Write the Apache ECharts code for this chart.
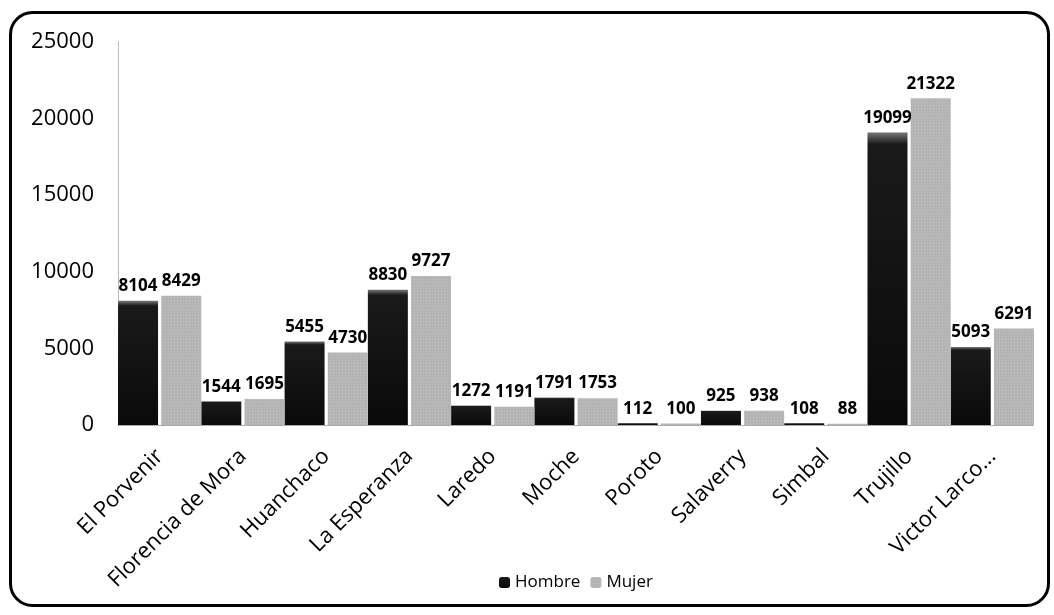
<!DOCTYPE html>
<html>
<head>
<meta charset="utf-8">
<script src="https://cdn.jsdelivr.net/npm/echarts@6/dist/echarts.min.js"></script>
<style>
html,body{margin:0;padding:0;background:#fff;}
#chart{width:1054px;height:615px;}
</style>
</head>
<body>
<div id="chart"></div>
<script>
// datos por distrito
var categories = ['El Porvenir','Florencia de Mora','Huanchaco','La Esperanza','Laredo','Moche','Poroto','Salaverry','Simbal','Trujillo','Victor Larco...'];
var hombre = [8104,1544,5455,8830,1272,1791,112,925,108,19099,5093];
var mujer = [8429,1695,4730,9727,1191,1753,100,938,88,21322,6291];
var yTicks = [0,5000,10000,15000,20000,25000];

var chart = echarts.init(document.getElementById('chart'));

var labelStyle = {
    show:true,
    position:'top',
    distance:6,
    color:'#000',
    fontWeight:'bold',
    fontSize:17,
    fontFamily:'Open Sans'
};

var option = {
    animation:false,
    backgroundColor:'#fff',
    textStyle:{fontFamily:'Open Sans'},
    graphic:[{
        type:'rect',
        left:8, top:10,
        shape:{width:1038, height:593, r:22},
        style:{fill:'none', stroke:'#000', lineWidth:3},
        z:-1
    }],
    grid:{left:118, right:20, top:42, bottom:190},
    legend:{
        top:569,
        left:494,
        itemWidth:11,
        itemHeight:11,
        itemGap:10,
        textStyle:{fontSize:17, color:'#000', fontFamily:'Open Sans'},
        data:['Hombre','Mujer']
    },
    xAxis:{
        type:'category',
        data:categories,
        axisLine:{lineStyle:{color:'#999', type:'dotted'}},
        axisTick:{show:false},
        axisLabel:{rotate:45, fontSize:22, color:'#000', margin:28, interval:0}
    },
    yAxis:{
        type:'value',
        min:0, max:25000, interval:5000,
        axisLine:{show:true, lineStyle:{color:'#aaa', type:'dotted'}},
        axisTick:{show:false},
        splitLine:{show:false},
        axisLabel:{fontSize:22, color:'#000', margin:24,
            formatter:function(v){ return yTicks.indexOf(v) >= 0 ? String(v) : ''; }}
    },
    series:[
        {
            name:'Hombre',
            type:'bar',
            data:hombre,
            barWidth:40,
            barGap:'8%',
            barCategoryGap:'2%',
            itemStyle:{
                color:new echarts.graphic.LinearGradient(0,0,0,1,[
                    {offset:0, color:'#777'},
                    {offset:0.04, color:'#1a1a1a'},
                    {offset:1, color:'#0a0a0a'}
                ], false)
            },
            label:labelStyle
        },
        {
            name:'Mujer',
            type:'bar',
            data:mujer,
            barWidth:40,
            itemStyle:{
                color:'#b4b4b4',
                decal:{symbol:'rect', symbolSize:0.6, dashArrayX:[1,2], dashArrayY:[1,2], color:'#e6e6e6', rotation:0}
            },
            label:labelStyle
        }
    ]
};

chart.setOption(option);
</script>
</body>
</html>
